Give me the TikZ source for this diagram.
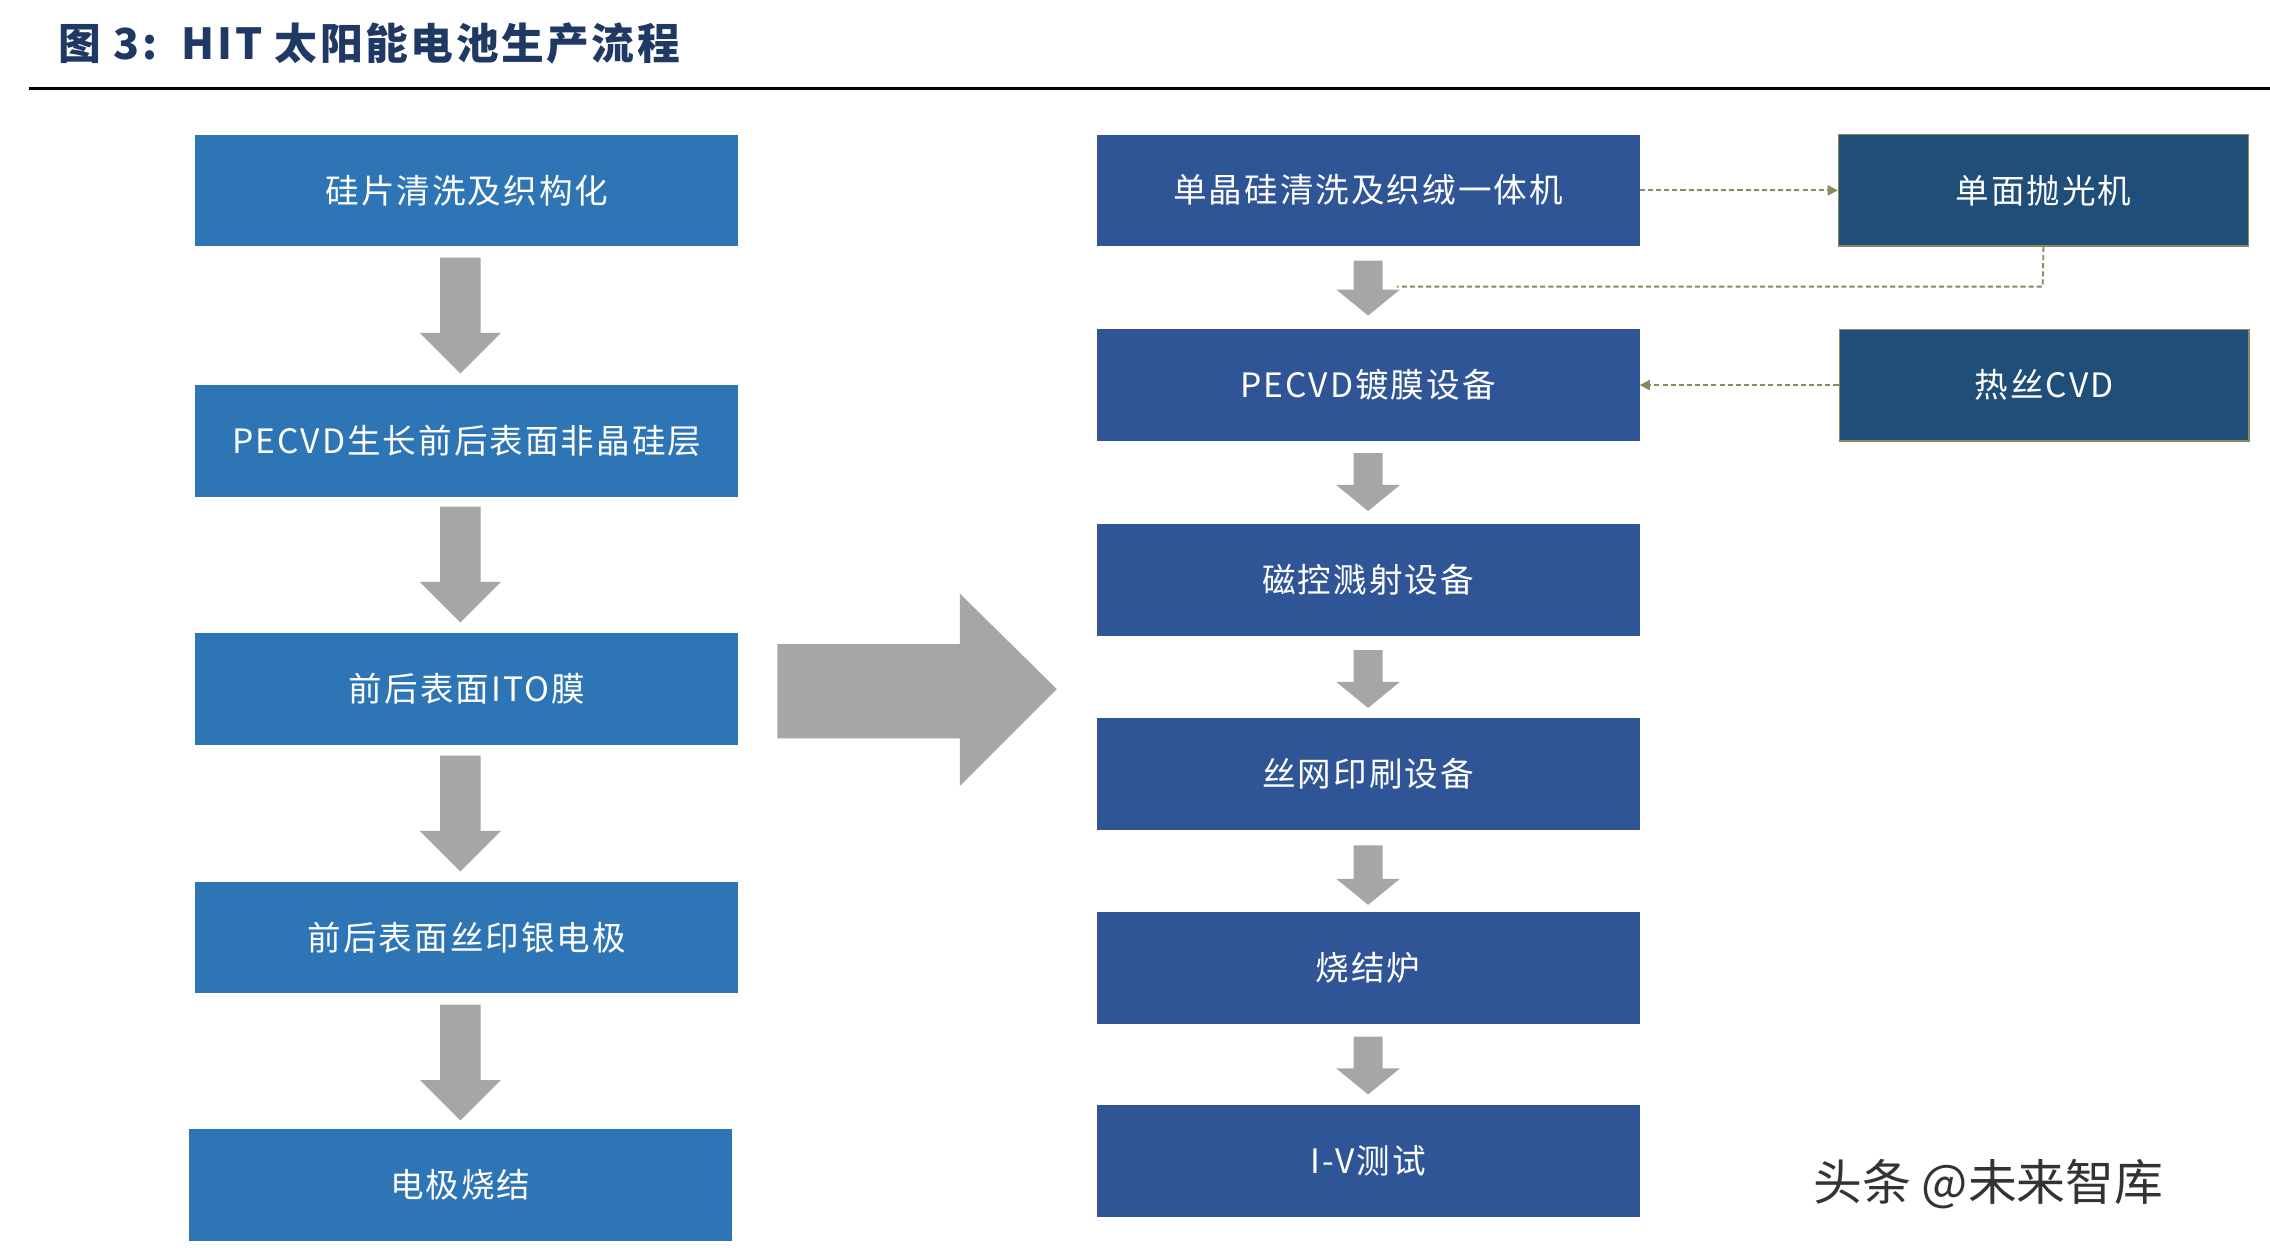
\documentclass[tikz,border=0pt]{standalone}
\usepackage{fontspec}
\setmainfont{Liberation Serif}
\newfontfamily\cjk{Noto Sans CJK SC}
\newfontfamily\cjkw{Noto Sans CJK SC}[LetterSpace=6]
\usetikzlibrary{arrows.meta}
\definecolor{lb}{HTML}{2E75B6}
\definecolor{rb}{HTML}{2F5597}
\definecolor{db}{HTML}{1F4E79}
\definecolor{ol}{HTML}{8C8A5C}
\definecolor{ga}{HTML}{A6A6A6}
\definecolor{tt}{HTML}{1F3864}
\begin{document}
\begin{tikzpicture}[x=0.05cm,y=-0.05cm,
  box/.style={draw=none,minimum width=18.75cm,minimum height=3.85cm,text=white,font=\cjkw\fontsize{33}{38}\selectfont,inner sep=0},
  lbox/.style={box,fill=lb},
  rbox/.style={box,fill=rb},
  dbox/.style={box,fill=db,draw=ol,line width=1.5pt,minimum width=14.15cm},
  dline/.style={ol,dash pattern=on 5pt off 3pt,line width=1.8pt},
  tip/.style={-{Triangle[length=10pt,width=10pt]}}]
\useasboundingbox (0,0) rectangle (1568,863.3);
\node[anchor=west,text=tt,font=\cjkw\bfseries\fontsize{42}{46}\selectfont] (title) at (38,30) {图 3:\ \ HIT 太阳能电池生产流程};
\draw[line width=2.5pt] (20,61) coordinate (r1) -- (1568,61) coordinate (r2);
% left column
\node[lbox] (l1) at (322.5,131.5) {硅片清洗及织构化};
\node[lbox] (l2) at (322.5,304.5) {PECVD生长前后表面非晶硅层};
\node[lbox] (l3) at (322.5,476) {前后表面ITO膜};
\node[lbox] (l4) at (322.5,647.5) {前后表面丝印银电极};
\node[lbox] (l5) at (318,818.5) {电极烧结};
\foreach \y in {178,350,522,694}{
  \fill[ga] (304,\y) -- (332,\y) -- (332,\y+52) -- (346,\y+52) -- (318,\y+80) -- (290,\y+52) -- (304,\y+52) -- cycle;}
% big arrow
\fill[ga] (537,445) -- (663,445) -- (663,410) -- (730,476) -- (663,543) -- (663,510) -- (537,510) -- cycle;
% right column
\node[rbox] (r1b) at (945,131.5) {单晶硅清洗及织绒一体机};
\node[rbox] (r2b) at (945,266) {PECVD镀膜设备};
\node[rbox] (r3b) at (945,400.5) {磁控溅射设备};
\node[rbox] (r4b) at (945,534.5) {丝网印刷设备};
\node[rbox] (r5b) at (945,668.5) {烧结炉};
\node[rbox] (r6b) at (945,802) {I-V测试};
\foreach \y/\h in {180/38,313/40,449/40,584/41,716/40}{
  \fill[ga] (935,\y) -- (955,\y) -- (955,\y+\h-18) -- (967,\y+\h-18) -- (945,\y+\h) -- (923,\y+\h-18) -- (935,\y+\h-18) -- cycle;}
% far right
\node[dbox] (s1) at (1411.5,131.5) {单面抛光机};
\node[dbox] (s2) at (1412,266) {热丝CVD};
\coordinate (m1) at (1411,198);
\coordinate (m2) at (965,198);
\draw[dline,tip] (r1b.east) -- (s1.west);
\draw[dline] (s1.south) -- (m1) -- (m2);
\draw[dline,tip] (s2.west) -- (r2b.east);
\node[anchor=west,text=black!80,font=\cjk\fontsize{48}{52}\selectfont] (wm) at (1250,818) {头条 @未来智库};
\end{tikzpicture}
\end{document}
